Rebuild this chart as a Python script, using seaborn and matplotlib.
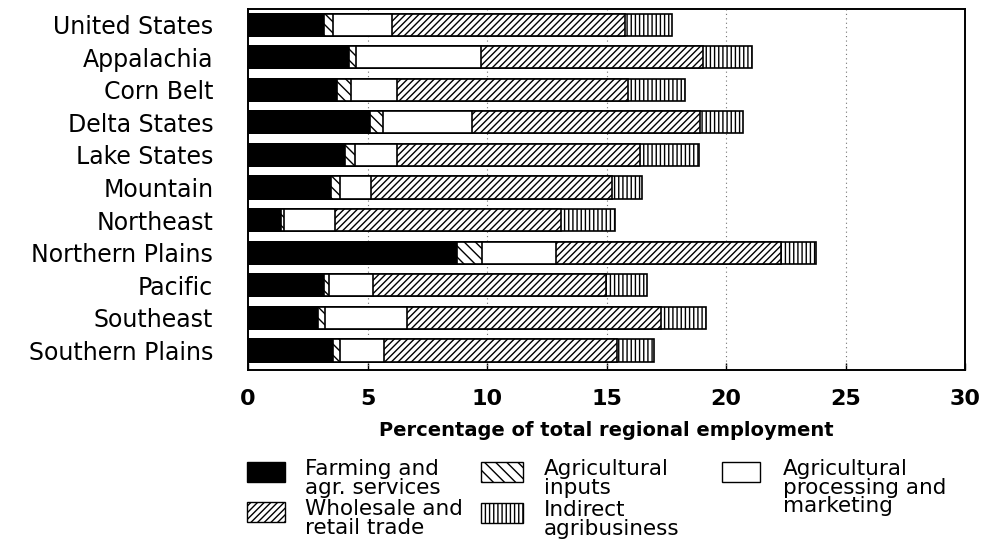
import numpy as np
import pandas as pd
import matplotlib
matplotlib.use("Agg")
import matplotlib.pyplot as plt
import seaborn as sns
from matplotlib.patches import Rectangle

# Regiões e componentes do emprego agrícola (% do emprego regional total)
regioes = ['United States', 'Appalachia', 'Corn Belt', 'Delta States', 'Lake States',
           'Mountain', 'Northeast', 'Northern Plains', 'Pacific', 'Southeast',
           'Southern Plains']
farming = [3.19, 4.24, 3.72, 5.10, 4.05, 3.49, 1.38, 8.73, 3.16, 2.91, 3.54]
inputs = [0.35, 0.28, 0.58, 0.53, 0.43, 0.37, 0.14, 1.08, 0.24, 0.32, 0.32]
processing = [2.47, 5.24, 1.93, 3.74, 1.75, 1.28, 2.13, 3.09, 1.85, 3.41, 1.83]
wholesale = [9.76, 9.29, 9.67, 9.56, 10.19, 10.09, 9.45, 9.40, 9.74, 10.65, 9.77]
indirect = [1.96, 2.05, 2.37, 1.77, 2.47, 1.27, 2.24, 1.46, 1.70, 1.87, 1.54]

xticks = [0, 5, 10, 15, 20, 25, 30]
rotulos_legenda = {
    'Farming': 'Farming and\nagr. services',
    'Wholesale': 'Wholesale and\nretail trade',
    'Inputs': 'Agricultural\ninputs',
    'Indirect': 'Indirect\nagribusiness',
    'Processing': 'Agricultural\nprocessing and\nmarketing',
}

df = pd.DataFrame({'Regiao': regioes, 'Farming': farming, 'Inputs': inputs,
                   'Processing': processing, 'Wholesale': wholesale, 'Indirect': indirect})
componentes = ['Farming', 'Inputs', 'Processing', 'Wholesale', 'Indirect']
cum = df[componentes].cumsum(axis=1)

# estilo de cada componente: (cor, hachura)
estilos = {
    'Farming': ('black', None),
    'Inputs': ('white', '\\\\\\'),
    'Processing': ('white', None),
    'Wholesale': ('white', '/////'),
    'Indirect': ('white', '||||'),
}

sns.set_style("white")
plt.rcParams['hatch.linewidth'] = 1.0
plt.rcParams['font.family'] = ['DejaVu Sans']
for k in ['text.color', 'axes.labelcolor', 'xtick.color', 'ytick.color']:
    plt.rcParams[k] = 'black'

W, H = 984, 558
fig = plt.figure(figsize=(W / 100, H / 100), dpi=100)
ax = fig.add_axes([248 / W, 1 - 370 / H, (965 - 248) / W, (370 - 9) / H])

# barras empilhadas: desenha o acumulado do maior para o menor
for comp in componentes[::-1]:
    cor, hatch = estilos[comp]
    n_antes = len(ax.patches)
    sns.barplot(x=cum[comp], y=df['Regiao'], orient='h', color=cor, width=0.68,
                edgecolor='black', linewidth=1.2, saturation=1, ax=ax, zorder=2)
    for p in ax.patches[n_antes:]:
        p.set_facecolor(cor)
        if hatch:
            p.set_hatch(hatch)

ax.set_xlim(0, 30)
ax.set_ylim(10.6, -0.48)
ax.set_xticks(xticks)
ax.set_xticklabels([str(t) for t in xticks], fontsize=16, fontweight='bold')
ax.tick_params(axis='x', direction='in', length=5, width=1, pad=14, bottom=True)
ax.tick_params(axis='y', length=0, pad=25, labelsize=17)
ax.set_ylabel('')
ax.set_xlabel('Percentage of total regional employment', fontsize=14,
              fontweight='bold', labelpad=8)

for x in [5, 10, 15, 20, 25]:
    ax.axvline(x, color='0.45', linestyle=(0, (1, 3)), linewidth=0.8, zorder=1)

for s in ax.spines.values():
    s.set_visible(True)
    s.set_color('black')
    s.set_linewidth(1.4)

# legenda montada à mão (caixa alinhada à primeira linha do texto)
posicoes = {  # (x caixa, y topo, largura caixa, x texto) em pixels
    'Farming': (247, 462, 38, 305),
    'Wholesale': (247, 502, 38, 305),
    'Inputs': (481, 462, 42, 544),
    'Indirect': (481, 503, 42, 544),
    'Processing': (722, 462, 38, 783),
}
for comp, (px, py, pw, tx) in posicoes.items():
    cor, hatch = estilos[comp]
    fig.add_artist(Rectangle((px / W, 1 - (py + 20) / H), pw / W, 20 / H,
                             transform=fig.transFigure, facecolor=cor,
                             edgecolor='black', linewidth=1.0, hatch=hatch))
    fig.text(tx / W, 1 - (py - 3) / H, rotulos_legenda[comp], fontsize=15.5,
             va='top', ha='left', linespacing=0.92)

fig.savefig('out.png', dpi=100)
